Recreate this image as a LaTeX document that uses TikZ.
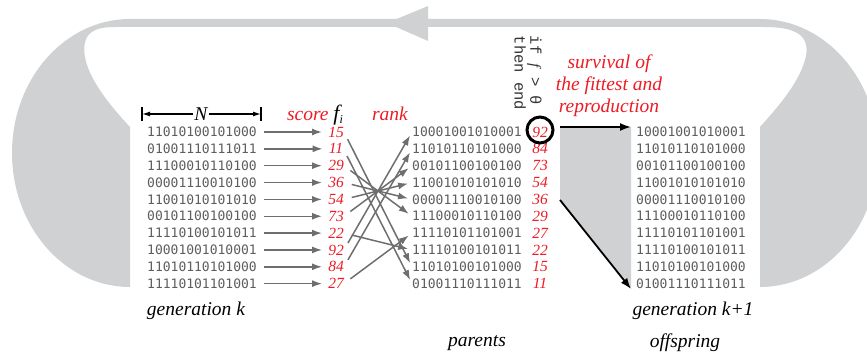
\documentclass[tikz,border=0pt]{standalone}
\usepackage{fontspec}
\setmainfont{Liberation Serif}
\newfontfamily\binfont{DejaVu Sans Mono}
\newfontfamily\ttcode{Liberation Mono}
\usetikzlibrary{arrows.meta}
\definecolor{loopgray}{HTML}{D0D1D3}
\definecolor{txtgray}{HTML}{5E5E5E}
\definecolor{arrgray}{HTML}{6E6E6E}
\definecolor{redlab}{HTML}{EE1A24}
\begin{document}
\begin{tikzpicture}[x=1pt,y=-1pt,
  bits/.style={font=\binfont\fontsize{13}{13}\selectfont, text=txtgray, inner sep=0pt, anchor=west},
  sc/.style={font=\fontsize{15.5}{16}\selectfont\itshape, text=redlab, inner sep=0pt},
  lab/.style={font=\fontsize{19.5}{22}\selectfont\itshape, inner sep=0pt},
  garr/.style={draw=arrgray, line width=1.5pt, -{Latex[length=10pt,width=7pt]}},
  barr/.style={draw=black, line width=1.8pt, -{Latex[length=11pt,width=8pt]}},
]
\useasboundingbox (0,0) rectangle (867,358);
\clip (0,0) rectangle (867,358);
% loop band
\fill[loopgray] (130,287) -- (130,127) .. controls (100,95) and (80,65) .. (85,42)
  .. controls (88,30) and (100,27) .. (115,27) -- (765,27)
  .. controls (795,27) and (812,35) .. (805,60)
  .. controls (798,85) and (775,110) .. (760,127) -- (760,287)
  .. controls (825,287) and (878,227) .. (878,153)
  .. controls (878,79) and (825,19) .. (760,19) -- (130,19)
  .. controls (64.8,19) and (12,79) .. (12,153)
  .. controls (12,227) and (64.8,287) .. (130,287) -- cycle;
\fill[loopgray] (387,23) -- (428,6) -- (428,41) -- cycle;
% generation k
\foreach \s [count=\i] in {11010100101000,01001110111011,11100010110100,00001110010100,11001010101010,00101100100100,11110100101011,10001001010001,11010110101000,11110101101001}
  \node[bits] (L\i) at (147,{132+(\i-1)*16.85}) {\s};
\foreach \v [count=\i] in {15,11,29,36,54,73,22,92,84,27}
  \node[sc] (S\i) at (336,{132+(\i-1)*16.85}) {\v};
% parents
\foreach \s [count=\i] in {10001001010001,11010110101000,00101100100100,11001010101010,00001110010100,11100010110100,11110101101001,11110100101011,11010100101000,01001110111011}
  \node[bits] (P\i) at (412,{132+(\i-1)*16.85}) {\s};
\foreach \v [count=\i] in {92,84,73,54,36,29,27,22,15,11}
  \node[sc] (R\i) at (540,{132+(\i-1)*16.85}) {\v};
% offspring
\foreach \s [count=\i] in {10001001010001,11010110101000,00101100100100,11001010101010,00001110010100,11100010110100,11110101101001,11110100101011,11010100101000,01001110111011}
  \node[bits] (O\i) at (636,{132+(\i-1)*16.85}) {\s};
% score arrows
\foreach \i in {1,...,10}
  \draw[garr, shorten <=7pt, shorten >=6pt] (L\i.east) -- (S\i.west);
% ranking arrows
\foreach \i/\j in {1/9,2/10,3/6,4/5,5/4,6/3,7/8,8/1,9/2,10/7}
  \draw[garr, shorten <=8pt, shorten >=4pt] (S\i.east) -- (P\j.west);
% circle
\node[circle, draw=black, line width=3pt, minimum size=26pt, inner sep=0pt] (C) at (540,130) {};
% survival wedge
\coordinate (g1) at (560,127);
\coordinate (g2) at (631,127);
\coordinate (g3) at (631,289);
\coordinate (g4) at (560,200);
\fill[loopgray] (g1) -- (g2) -- (g3) -- (g4) -- cycle;
\draw[barr] (g1) -- (g2);
\draw[barr] (g4) -- (g3);
% labels
\node[lab, text=redlab, align=center] (surv) at (609,86) {survival of\\the fittest and\\reproduction};
\node[lab, anchor=base] (score) at (315,121) {\textcolor{redlab}{score} {\fontsize{22}{22}\selectfont f}\raisebox{-3pt}{\fontsize{12}{12}\selectfont i}};
\node[lab, text=redlab, anchor=base] (rank) at (390,121) {rank};
\node[rotate=-90, align=left, inner sep=0pt, font=\ttcode\fontsize{15.5}{11.5}\selectfont, text=black!80] (cond) at (528,73) {if {\rmfamily\itshape f} > θ\\then end};
% N dimension
\node[lab, inner sep=1.5pt] (N) at (201,114) {N};
\coordinate (bl) at (142,114);
\coordinate (br) at (261,114);
\draw[line width=1.2pt, -{Latex[length=8pt,width=5pt]}] (N.west) -- (bl);
\draw[line width=1.2pt, -{Latex[length=8pt,width=5pt]}] (N.east) -- (br);
\draw[line width=1.5pt] ([yshift=-7pt]bl) -- ([yshift=7pt]bl);
\draw[line width=1.5pt] ([yshift=-7pt]br) -- ([yshift=7pt]br);
% bottom labels
\node[lab] (gk) at (196,311) {generation k};
\node[lab] (gk1) at (693,311) {generation k+1};
\node[lab] (par) at (477,343) {parents};
\node[lab] (off) at (685,343) {offspring};
\end{tikzpicture}
\end{document}
